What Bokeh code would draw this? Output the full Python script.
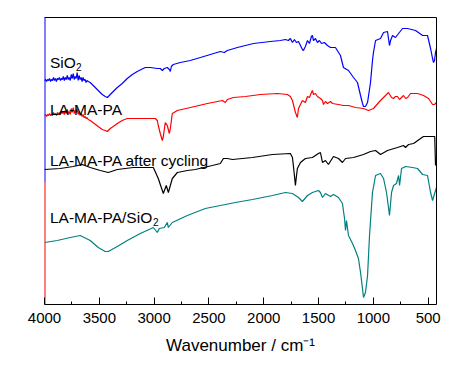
from bokeh.plotting import figure
from bokeh.models import Range1d, FixedTicker, LinearAxis, Label
from bokeh.embed import file_html
from bokeh.resources import INLINE

# ---- data (wavenumber cm-1, transmittance in arbitrary offset units) ----
sio2_wn = [4000, 3990, 3981, 3972, 3963, 3954, 3945, 3936, 3927, 3918, 3909, 3900, 3891, 3882, 3873,
           3864, 3855, 3846, 3837, 3828, 3819, 3810, 3801, 3792, 3783, 3774, 3765, 3756, 3747, 3738,
           3729, 3720, 3711, 3702, 3693, 3684, 3675, 3666, 3657, 3648, 3639, 3630, 3621, 3612, 3601,
           3583, 3546, 3510, 3473, 3446, 3427, 3400, 3373, 3336, 3291, 3245, 3199, 3154, 3081, 3035,
           2971, 2944, 2925, 2907, 2880, 2861, 2852, 2843, 2825, 2761, 2670, 2578, 2487, 2396, 2359,
           2332, 2240, 2094, 1939, 1848, 1802, 1775, 1757, 1738, 1720, 1702, 1683, 1665, 1647, 1638,
           1620, 1601, 1583, 1565, 1556, 1546, 1528, 1510, 1492, 1473, 1446, 1419, 1391, 1346, 1300,
           1273, 1227, 1181, 1145, 1117, 1099, 1090, 1072, 1053, 1026, 1008, 999, 980, 935, 907,
           871, 862, 853, 843, 825, 798, 770, 734, 688, 615, 551, 506, 478, 460, 451, 442, 433, 424]
sio2_t = [224, 225, 223, 225, 224, 226, 223, 225, 224, 227, 224, 226, 223, 226, 225,
          227, 224, 226, 225, 228, 224, 227, 225, 229, 225, 227, 224, 230, 226, 231,
          225, 228, 226, 232, 224, 229, 225, 227, 223, 227, 224, 225, 222, 224, 223,
          222, 218, 214, 210, 208, 207, 210, 213, 217, 221, 226, 230, 233, 237, 237,
          236, 236, 234, 236, 237, 235, 233, 238, 240, 242, 244, 247, 250, 253, 252,
          254, 257, 261, 263, 264, 265, 264, 266, 262, 265, 262, 263, 259, 255, 254,
          258, 264, 261, 268, 269, 264, 266, 262, 264, 261, 262, 259, 257, 257, 249,
          237, 234, 227, 222, 209, 201, 198, 198, 202, 222, 244, 252, 264, 266, 272,
          273, 266, 259, 264, 269, 267, 271, 276, 276, 274, 269, 269, 256, 246, 242, 244, 252, 256]

lmp_wn = [4000, 3990, 3981, 3972, 3963, 3954, 3945, 3936, 3927, 3918, 3909, 3900, 3891, 3882, 3873,
          3864, 3855, 3846, 3837, 3828, 3819, 3810, 3801, 3792, 3783, 3774, 3765, 3756, 3747, 3738,
          3729, 3720, 3711, 3702, 3693, 3684, 3675, 3666, 3657, 3648, 3639, 3630, 3621, 3612, 3601,
          3583, 3546, 3510, 3473, 3446, 3427, 3400, 3373, 3336, 3291, 3245, 3154, 3081, 2989, 2971,
          2962, 2944, 2925, 2916, 2898, 2880, 2861, 2852, 2834, 2788, 2669, 2514, 2377, 2350, 2332,
          2277, 2167, 2030, 1875, 1784, 1757, 1738, 1711, 1693, 1683, 1665, 1647, 1620, 1601, 1583,
          1565, 1556, 1546, 1528, 1510, 1483, 1464, 1455, 1437, 1419, 1391, 1373, 1318, 1273, 1227,
          1163, 1090, 1044, 999, 935, 889, 862, 834, 816, 798, 780, 761, 743, 725, 706,
          688, 661, 597, 542, 496, 478, 460, 442, 424]
lmp_t = [189, 190, 188, 190, 189, 191, 189, 190, 189, 192, 190, 191, 189, 192, 190,
         192, 190, 193, 191, 193, 190, 194, 191, 195, 191, 193, 190, 196, 192, 197,
         191, 194, 192, 196, 190, 193, 189, 191, 188, 190, 187, 188, 186, 187, 185,
         184, 181, 178, 175, 174, 173, 176, 178, 181, 184, 186, 186, 186, 186, 184,
         179, 171, 164, 168, 182, 179, 171, 176, 191, 194, 197, 201, 204, 202, 205,
         207, 208, 210, 211, 210, 208, 204, 192, 187, 196, 200, 204, 202, 208, 207,
         212, 214, 210, 211, 208, 206, 204, 200, 203, 201, 203, 201, 200, 199, 199,
         197, 196, 194, 196, 204, 209, 212, 207, 206, 208, 208, 205, 207, 209, 206,
         207, 211, 211, 209, 206, 203, 200, 200, 202]

cyc_wn = [4000, 3857, 3738, 3656, 3583, 3491, 3418, 3336, 3190, 3007, 2962, 2916, 2889, 2870, 2834,
          2788, 2697, 2624, 2469, 2396, 2368, 2332, 2286, 2103, 1921, 1757, 1738, 1720, 1711, 1702,
          1693, 1665, 1620, 1556, 1501, 1483, 1464, 1437, 1410, 1364, 1318, 1282, 1254, 1181, 1090,
          1026, 980, 935, 871, 780, 725, 707, 679, 633, 569, 543, 451, 440, 433]
cyc_t = [135, 136, 138, 140, 137, 134, 132, 135, 137, 137, 126, 111, 119, 112, 126,
         132, 134, 135, 139, 141, 146, 146, 145, 147, 150, 151, 147, 129, 119, 128,
         136, 142, 146, 147, 151, 152, 142, 144, 140, 148, 146, 142, 146, 147, 150,
         153, 154, 150, 154, 157, 159, 157, 160, 161, 166, 168, 168, 168, 139]

comp_wn = [4000, 3884, 3765, 3674, 3583, 3510, 3446, 3418, 3336, 3245, 3126, 3007, 2971, 2953, 2907,
           2880, 2870, 2834, 2697, 2533, 2259, 2103, 1921, 1802, 1738, 1683, 1647, 1601, 1556, 1501,
           1483, 1464, 1437, 1391, 1364, 1318, 1282, 1263, 1254, 1245, 1227, 1190, 1163, 1136, 1117,
           1099, 1090, 1072, 1053, 1035, 1008, 980, 935, 907, 880, 862, 853, 834, 816, 789,
           770, 761, 743, 706, 643, 597, 551, 506, 478, 460, 433, 424]
comp_t = [62, 64, 67, 69, 64, 57, 53, 53, 58, 64, 71, 77, 72, 76, 77,
          82, 77, 82, 89, 96, 102, 105, 109, 112, 111, 107, 103, 109, 112, 114,
          112, 107, 111, 108, 110, 107, 101, 86, 74, 84, 69, 61, 54, 46, 32,
          16, 7, 12, 29, 69, 112, 129, 131, 126, 112, 97, 89, 112, 119, 121,
          129, 119, 136, 138, 137, 136, 130, 129, 112, 104, 114, 117]

x_ticks = [4000, 3500, 3000, 2500, 2000, 1500, 1000, 500]
x_minor = [3750, 3250, 2750, 2250, 1750, 1250, 750]

FONT = "Liberation Sans"

p = figure(width=445, height=360, output_backend="svg", toolbar_location=None,
           x_range=Range1d(4000, 424), y_range=Range1d(0, 287),
           y_axis_location=None,
           min_border_left=44, min_border_right=9, min_border_top=17, min_border_bottom=56)
p.grid.visible = False
p.outline_line_color = None
p.background_fill_color = "white"
p.border_fill_color = "white"

ax = p.xaxis[0]
ax.ticker = FixedTicker(ticks=x_ticks, minor_ticks=x_minor)
ax.axis_line_color = "black"
ax.major_tick_in = 7
ax.major_tick_out = 0
ax.minor_tick_in = 3
ax.minor_tick_out = 0
ax.major_tick_line_color = "black"
ax.minor_tick_line_color = "black"
ax.major_label_text_font = FONT
ax.major_label_text_font_size = "15px"
ax.major_label_text_color = "black"
ax.major_label_standoff = 8
ax.axis_label = "Wavenumber / cm\u207b\u00b9"
ax.axis_label_text_font = FONT
ax.axis_label_text_font_size = "17px"
ax.axis_label_text_font_style = "normal"
ax.axis_label_text_color = "black"
ax.axis_label_standoff = 10

top = LinearAxis(ticker=FixedTicker(ticks=[]), axis_line_color="black",
                 major_tick_line_color=None, minor_tick_line_color=None,
                 major_label_text_font_size="0px")
p.add_layout(top, "above")
right = LinearAxis(ticker=FixedTicker(ticks=[]), axis_line_color="black",
                   major_tick_line_color=None, minor_tick_line_color=None,
                   major_label_text_font_size="0px")
p.add_layout(right, "right")

# coloured left spine
p.segment(x0=[4000], y0=[122], x1=[4000], y1=[287], line_color="#0000FF", line_width=2)
p.segment(x0=[4000], y0=[0], x1=[4000], y1=[122], line_color="#FF0000", line_width=2)

p.line(sio2_wn, sio2_t, line_color="#0000FF", line_width=1.2)
p.line(lmp_wn, lmp_t, line_color="#FF0000", line_width=1.2)
p.line(cyc_wn, cyc_t, line_color="#000000", line_width=1.2)
p.line(comp_wn, comp_t, line_color="#008080", line_width=1.2)

def lab(x, y, text, size="15.5px", dx=0, dy=0):
    p.add_layout(Label(x=x, y=y, text=text, x_offset=dx, y_offset=dy,
                       text_font=FONT, text_font_size=size, text_color="black",
                       text_baseline="alphabetic", text_align="left"))

lab(3950, 242, "SiO")
lab(3950, 242, "2", size="10px", dx=26, dy=-4)
lab(3950, 195, "LA-MA-PA")
lab(3950, 144, "LA-MA-PA after cycling")
lab(3950, 87, "LA-MA-PA/SiO")
lab(3950, 87, "2", size="10px", dx=103, dy=-4)

open("out.html", "w").write(file_html(p, INLINE))
